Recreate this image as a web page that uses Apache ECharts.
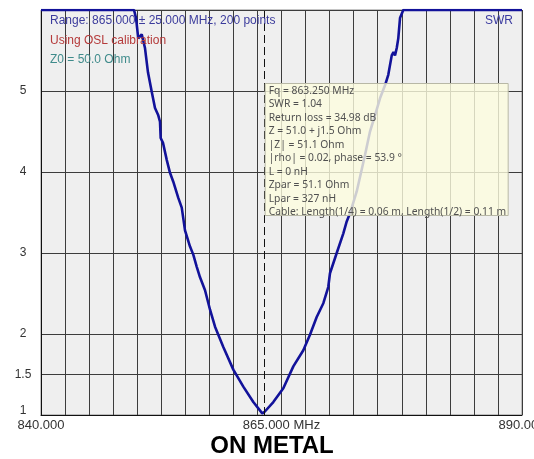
<!DOCTYPE html>
<html>
<head>
<meta charset="utf-8">
<title>SWR sweep - ON METAL</title>
<script src="https://cdn.jsdelivr.net/npm/echarts@6/dist/echarts.min.js"></script>
<style>
  html, body { margin: 0; padding: 0; background: #ffffff; }
  #chart { width: 534px; height: 459px; }
</style>
</head>
<body>
<div id="chart"></div>
<script>
// Sweep frequencies (MHz) and measured SWR; the analyser clips the trace at SWR 6.
const freqMHz = [
  840.00, 849.67, 849.88, 850.11, 850.47, 850.81, 851.12, 851.51, 851.85, 852.19,
  852.37, 852.44, 852.68, 853.07, 853.41, 853.75, 854.27, 854.63, 854.97, 855.49,
  855.83, 856.19, 856.53, 857.05, 857.57, 858.09, 858.95, 859.99, 861.03, 862.07,
  863.00, 863.25, 864.15, 865.19, 866.23, 867.27, 867.96, 868.66, 869.35, 869.86,
  870.04, 870.74, 871.42, 871.78, 872.12, 872.82, 873.68, 874.20, 874.72, 875.24,
  875.76, 876.10, 876.46, 876.64, 876.80, 876.98, 877.14, 877.32, 877.66, 890.00
];
const swrValues = [
  6.00, 6.00, 5.90, 5.65, 5.70, 5.53, 5.23, 4.99, 4.79, 4.70,
  4.62, 4.42, 4.36, 4.15, 3.99, 3.88, 3.68, 3.56, 3.28, 3.08,
  2.98, 2.83, 2.70, 2.54, 2.30, 2.09, 1.84, 1.56, 1.35, 1.16,
  1.02, 1.04, 1.16, 1.33, 1.60, 1.80, 1.99, 2.21, 2.38, 2.58,
  2.75, 3.00, 3.24, 3.39, 3.49, 3.76, 4.21, 4.50, 4.70, 4.91,
  5.07, 5.20, 5.44, 5.48, 5.44, 5.53, 5.65, 5.90, 6.00, 6.00
];

// Axis ticks
const xLabelTicks = [840, 865, 890];
const yGridTicks = [1, 1.5, 2, 3, 4, 5, 6];
const yLabelTicks = [1, 1.5, 2, 3, 4, 5];

// Marker readout
const cursorFreq = 863.25;
const cursorSwr = swrValues[freqMHz.indexOf(cursorFreq)];
const readoutLines = [
  'Fq = ' + cursorFreq.toFixed(3) + ' MHz',
  'SWR = ' + cursorSwr.toFixed(2),
  'Return loss = 34.98 dB',
  'Z = 51.0 + j1.5 Ohm',
  '|Z| = 51.1 Ohm',
  '|rho| = 0.02, phase = 53.9 °',
  'L = 0 nH',
  'Zpar = 51.1 Ohm',
  'Lpar = 327 nH',
  'Cable: Length(1/4) = 0.06 m, Length(1/2) = 0.11 m'
];
const infoLines = [
  { text: 'Range: 865.000 ± 25.000 MHz, 200 points', color: '#3b3b9c' },
  { text: 'Using OSL calibration', color: '#b53a3a' },
  { text: 'Z0 = 50.0 Ohm', color: '#3f8b8b' }
];

const chart = echarts.init(document.getElementById('chart'), null, { renderer: 'canvas' });
const fontUI = 'Arial, "Liberation Sans", sans-serif';

chart.setOption({
  animation: false,
  grid: {
    left: 41, right: 12, top: 10, bottom: 44,
    outerBoundsMode: 'none', containLabel: false,
    show: true, backgroundColor: '#efefef',
    borderColor: '#8a8a8a', borderWidth: 1
  },
  xAxis: {
    type: 'value', min: 840, max: 890, interval: 2.5,
    axisLine: { show: true, onZero: false, lineStyle: { color: '#111', width: 1 } },
    axisTick: { show: false },
    splitLine: { show: true, lineStyle: { color: '#3c3c3c', width: 1 } },
    axisLabel: {
      customValues: xLabelTicks,
      margin: 4, hideOverlap: false,
      color: '#333', fontFamily: fontUI, fontSize: 13,
      formatter: v => v === 865 ? v.toFixed(3) + ' MHz' : v.toFixed(3)
    }
  },
  yAxis: {
    type: 'value', min: 1, max: 6,
    axisLine: { show: true, lineStyle: { color: '#111', width: 1 } },
    axisTick: { show: false, customValues: yGridTicks },
    splitLine: { show: true, lineStyle: { color: '#3c3c3c', width: 1 } },
    axisLabel: {
      customValues: yLabelTicks,
      margin: 18, align: 'center',
      color: '#333', fontFamily: fontUI, fontSize: 12,
      formatter: v => v === 1 ? '{low|1}' : String(v),
      rich: { low: { color: '#333', fontFamily: fontUI, fontSize: 12, padding: [0, 0, 8, 0] } }
    }
  },
  series: [{
    type: 'line',
    data: freqMHz.map((f, i) => [f, swrValues[i]]),
    showSymbol: false, symbol: 'none',
    lineStyle: { color: '#12129a', width: 2.6 },
    z: 3,
    markLine: {
      silent: true, symbol: 'none', animation: false,
      label: { show: false },
      lineStyle: { color: '#111', width: 1, type: [8, 4] },
      data: [{ xAxis: cursorFreq }]
    }
  }]
});

// Text overlays and the marker readout box, anchored to the cursor position
const cursorPx = chart.convertToPixel({ xAxisIndex: 0, yAxisIndex: 0 }, [cursorFreq, 5.0]);
const boxX = cursorPx[0];
const boxY = cursorPx[1] - 8;
const lineH = 13.5;
const graphics = [];

infoLines.forEach((l, i) => {
  graphics.push({
    type: 'text', x: 50, y: 21 + i * 19.5, z: 50,
    style: { text: l.text, fill: l.color, font: '12px ' + fontUI, textVerticalAlign: 'middle' }
  });
});
graphics.push({
  type: 'text', x: 513, y: 21, z: 50,
  style: { text: 'SWR', fill: '#3b3ba0', font: '12px ' + fontUI, textAlign: 'right', textVerticalAlign: 'middle' }
});
graphics.push({
  type: 'rect', z: 60,
  shape: { x: boxX + 0.5, y: boxY + 0.5, width: 243, height: 132 },
  style: { fill: 'rgba(253,253,222,0.8)', stroke: '#b8b8a6', lineWidth: 1 }
});
readoutLines.forEach((t, i) => {
  graphics.push({
    type: 'text', z: 61,
    x: boxX + 4, y: boxY + 8 + i * lineH,
    style: { text: t, fill: '#505050', font: '10.3px "Noto Sans", "DejaVu Sans", sans-serif', textVerticalAlign: 'middle' }
  });
});
graphics.push({
  type: 'text', x: 272, y: 446, z: 50,
  style: { text: 'ON METAL', fill: '#000', font: 'bold 24px Arial, "Liberation Sans", sans-serif', textAlign: 'center', textVerticalAlign: 'middle' }
});

chart.setOption({ graphic: { elements: graphics } });
</script>
</body>
</html>
